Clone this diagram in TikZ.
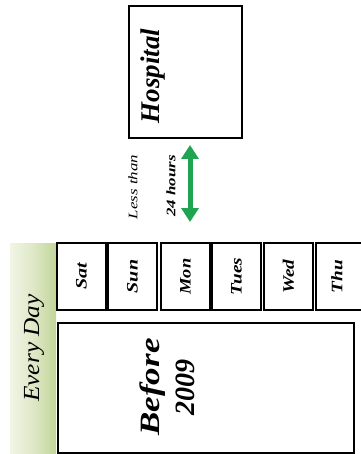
\documentclass[tikz,border=0pt]{standalone}
\usepackage{fontspec}
\setmainfont{Liberation Serif}
\usetikzlibrary{arrows.meta}
\definecolor{barlight}{HTML}{F1F5E6}
\definecolor{bardark}{HTML}{C2D598}
\definecolor{arrowgreen}{HTML}{1FA552}
\tikzset{
  frame/.style={draw=black, line width=1.6pt, fill=white, inner sep=0pt},
  daybox/.style={frame, rotate=90, minimum width=67pt, minimum height=49pt,
    font=\fontsize{16}{16}\selectfont\bfseries\itshape},
  bigtext/.style={rotate=90, inner sep=0pt, align=center,
    font=\fontsize{28}{35}\selectfont\bfseries\itshape},
  smalltext/.style={rotate=90, inner sep=0pt,
    font=\fontsize{13}{13}\selectfont\itshape},
  linkarrow/.style={draw=arrowgreen, line width=5pt,
    {Triangle[length=14pt,width=17pt]}-{Triangle[length=14pt,width=17pt]}}
}
\begin{document}
\begin{tikzpicture}[x=1pt,y=-1pt]
\useasboundingbox (0,0) rectangle (360,454);
\fill[white] (0,0) rectangle (360,454);

% header bar
\shade[shading=axis, left color=barlight, right color=bardark, middle color=barlight!60!bardark]
  (10,243) rectangle (56,456);
\node[rotate=90, inner sep=0pt, font=\fontsize{23}{23}\selectfont\itshape]
  (everyday) at (34,348) {\scalebox{1.1}[1]{Every Day}};

% weekday boxes
\node[daybox] (sat)  at (81.5,276.5)  {\scalebox{1.25}[1]{Sat}};
\node[daybox] (sun)  at (132.5,276.5) {\scalebox{1.25}[1]{Sun}};
\node[daybox] (mon)  at (185.5,276.5) {\scalebox{1.15}[1]{Mon}};
\node[daybox] (tues) at (236.5,276.5) {\scalebox{1.2}[1]{Tues}};
\node[daybox] (wed)  at (288.5,276.5) {\scalebox{1.2}[1]{Wed}};
\node[frame, minimum width=50pt, minimum height=67pt] (thubox) at (341,276.5) {};
\node[rotate=90, inner sep=0pt, font=\fontsize{16}{16}\selectfont\bfseries\itshape]
  (thu) at (337,276.5) {\scalebox{1.2}[1]{Thu}};

% period box
\node[frame, minimum width=296pt, minimum height=130pt] (period) at (206,388) {};
\node[bigtext] (before) at (167,387) {\scalebox{1.25}[1]{Before}\\2009};

% hospital box
\node[frame, minimum width=113pt, minimum height=132pt] (hospbox) at (185.5,72) {};
\node[bigtext, font=\fontsize{27}{27}\selectfont\bfseries\itshape] (hospital) at (153,76) {Hospital};

% time link
\coordinate (linktop) at (190,145);
\coordinate (linkbot) at (190,222);
\draw[linkarrow] (linktop) -- (linkbot);
\node[smalltext] (lessthan) at (133,187) {\scalebox{1.3}[1]{Less than}};
\node[smalltext, font=\fontsize{13}{13}\selectfont\bfseries\itshape] (hours) at (171,186) {\scalebox{1.3}[1]{24 hours}};
\end{tikzpicture}
\end{document}
